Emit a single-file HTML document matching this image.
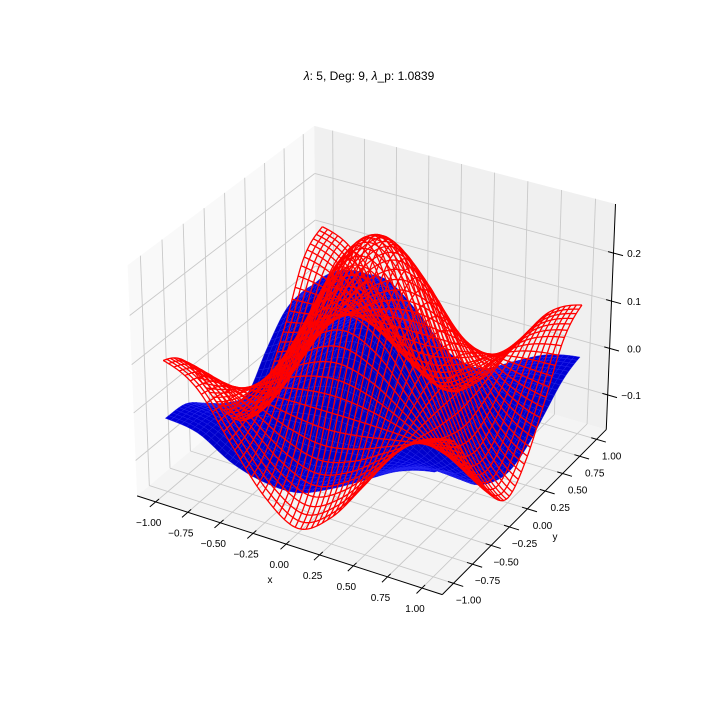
<!DOCTYPE html>
<html><head><meta charset="utf-8"><style>
html,body{margin:0;padding:0;background:#fff;}
svg{display:block;font-family:"Liberation Sans","DejaVu Sans",sans-serif;}
</style></head><body>
<svg id="chart" width="720" height="720" viewBox="0 0 720 720" xmlns="http://www.w3.org/2000/svg">
<rect x="0" y="0" width="720" height="720" fill="#ffffff"/>
<text x="369" y="80" text-anchor="middle" font-size="12" fill="#000"><tspan font-style="italic">λ</tspan>: 5, Deg: 9, <tspan font-style="italic">λ</tspan>_p: 1.0839</text>
<g id="panes"></g>
<g id="grid"></g>
<g id="axes"></g>
<g id="blue"></g>
<g id="red"></g>
</svg>
<script>
const xGrid=[-1,-0.75,-0.5,-0.25,0,0.25,0.5,0.75,1];
const yGrid=[-1,-0.75,-0.5,-0.25,0,0.25,0.5,0.75,1];
const redZ=[
[0.10,0.064,-0.03,-0.12,-0.165,-0.12,-0.03,0.064,0.10],
[0.064,0.042,-0.010,-0.06,-0.084,-0.06,-0.010,0.042,0.064],
[-0.03,-0.010,0.03,0.065,0.08,0.065,0.03,-0.010,-0.03],
[-0.12,-0.06,0.065,0.185,0.235,0.185,0.065,-0.06,-0.12],
[-0.165,-0.084,0.08,0.235,0.295,0.235,0.08,-0.084,-0.165],
[-0.12,-0.06,0.065,0.185,0.235,0.185,0.065,-0.06,-0.12],
[-0.03,-0.010,0.03,0.065,0.08,0.065,0.03,-0.010,-0.03],
[0.08,0.055,-0.010,-0.06,-0.084,-0.06,-0.010,0.042,0.064],
[0.115,0.08,-0.03,-0.12,-0.165,-0.12,-0.03,0.064,0.10]];
const blueZ=[
[-0.02,-0.03,-0.07,-0.09,-0.09,-0.06,-0.02,0.02,0.04],
[-0.025,-0.032,-0.049,-0.066,-0.07,-0.05,-0.03,-0.01,0.0],
[-0.06,-0.049,-0.0225,0.004,0.015,0.004,-0.0225,-0.049,-0.06],
[-0.095,-0.066,0.004,0.074,0.103,0.074,0.004,-0.066,-0.095],
[-0.11,-0.073,0.045,0.103,0.14,0.103,0.015,-0.073,-0.11],
[-0.05,0.0,0.06,0.104,0.103,0.074,0.004,-0.066,-0.095],
[0.0,0.07,0.09,0.09,0.05,0.004,-0.0225,-0.049,-0.06],
[0.01,0.07,0.08,0.05,-0.03,-0.066,-0.049,-0.032,-0.025],
[0.0,0.03,0.04,-0.01,-0.08,-0.095,-0.06,-0.025,-0.01]];
const xTicks=[-1,-0.75,-0.5,-0.25,0,0.25,0.5,0.75,1];
const xTickLabels=['−1.00','−0.75','−0.50','−0.25','0.00','0.25','0.50','0.75','1.00'];
const yTicks=[-1,-0.75,-0.5,-0.25,0,0.25,0.5,0.75,1];
const yTickLabels=['−1.00','−0.75','−0.50','−0.25','0.00','0.25','0.50','0.75','1.00'];
const zTicks=[-0.1,0,0.1,0.2];
const zTickLabels=['−0.1','0.0','0.1','0.2'];

const NS='http://www.w3.org/2000/svg';
const xlim=[-1.1,1.1], ylim=[-1.1,1.1], zlim=[-0.166,0.291];
function pad(l){const d=(l[1]-l[0])/12/4;return [l[0]-d,l[1]+d];}
const xb=pad(xlim), yb=pad(ylim), zb=pad(zlim);
const el=30*Math.PI/180, az=-60*Math.PI/180, dist=10;
const E=[0.5+dist*Math.cos(el)*Math.cos(az),0.5+dist*Math.cos(el)*Math.sin(az),0.5+dist*Math.sin(el)];
function norm(a){const l=Math.hypot(a[0],a[1],a[2]);return [a[0]/l,a[1]/l,a[2]/l];}
function cross(a,b){return [a[1]*b[2]-a[2]*b[1],a[2]*b[0]-a[0]*b[2],a[0]*b[1]-a[1]*b[0]];}
function dot(a,b){return a[0]*b[0]+a[1]*b[1]+a[2]*b[2];}
const nV=norm([E[0]-0.5,E[1]-0.5,E[2]-0.5]);
const uV=norm(cross([0,0,1],nV));
const vV=cross(nV,uV);
let KZ=1;
function raw(x,y,z){
  const Zn=0.5+((z-zlim[0])/(zlim[1]-zlim[0])-0.5)*KZ;
  const p=[(x-xlim[0])/(xlim[1]-xlim[0])-E[0],(y-ylim[0])/(ylim[1]-ylim[0])-E[1],Zn-E[2]];
  const vz=dot(nV,p);
  return [dot(uV,p)/(-vz),dot(vV,p)/(-vz),vz];
}
const fitPts=[[xb[0],yb[0],zb[0],137,495],[xb[1],yb[0],zb[0],443,596],[xb[1],yb[1],zb[0],605.5,429],
 [xb[1],yb[1],zb[1],615.5,203],[xb[0],yb[1],zb[1],315,127.5],[xb[0],yb[0],zb[1],127,264.6]];
function solve3(A,b){
  const M=[[0,0,0],[0,0,0],[0,0,0]],r=[0,0,0];
  for(let i=0;i<A.length;i++)for(let p=0;p<3;p++){r[p]+=A[i][p]*b[i];for(let q=0;q<3;q++)M[p][q]+=A[i][p]*A[i][q];}
  for(let c=0;c<3;c++){let piv=c;for(let k=c+1;k<3;k++)if(Math.abs(M[k][c])>Math.abs(M[piv][c]))piv=k;
    [M[c],M[piv]]=[M[piv],M[c]];[r[c],r[piv]]=[r[piv],r[c]];
    for(let k=0;k<3;k++)if(k!==c){const f=M[k][c]/M[c][c];for(let q=0;q<3;q++)M[k][q]-=f*M[c][q];r[k]-=f*r[c];}}
  return [r[0]/M[0][0],r[1]/M[1][1],r[2]/M[2][2]];
}
let best=null;
for(let kz=0.6;kz<=1.4;kz+=0.01){
  KZ=kz;
  const A=fitPts.map(p=>{const q=raw(p[0],p[1],p[2]);return [q[0],q[1],1];});
  const cx=solve3(A,fitPts.map(p=>p[3])), cy=solve3(A,fitPts.map(p=>p[4]));
  let err=0;A.forEach((a,i)=>{err+=Math.pow(cx[0]*a[0]+cx[1]*a[1]+cx[2]-fitPts[i][3],2)+Math.pow(cy[0]*a[0]+cy[1]*a[1]+cy[2]-fitPts[i][4],2);});
  if(!best||err<best.err)best={err,kz,cx,cy};
}
KZ=best.kz;
function P(x,y,z){const r=raw(x,y,z);return [best.cx[0]*r[0]+best.cx[1]*r[1]+best.cx[2],best.cy[0]*r[0]+best.cy[1]*r[1]+best.cy[2],r[2]];}

function cr(p0,p1,p2,p3,t){return 0.5*((2*p1)+(-p0+p2)*t+(2*p0-5*p1+4*p2-p3)*t*t+(-p0+3*p1-3*p2+p3)*t*t*t);}
function sample(G,x,y){
  const n=xGrid.length-1;
  const gx=(x-xGrid[0])/(xGrid[1]-xGrid[0]), gy=(y-yGrid[0])/(yGrid[1]-yGrid[0]);
  let ix=Math.min(n-1,Math.floor(gx)), iy=Math.min(n-1,Math.floor(gy));
  const tx=gx-ix, ty=gy-iy;
  const c=i=>Math.max(0,Math.min(n,i));
  const rows=[];
  for(let j=-1;j<=2;j++){const row=G[c(iy+j)];rows.push(cr(row[c(ix-1)],row[c(ix)],row[c(ix+1)],row[c(ix+2)],tx));}
  return cr(rows[0],rows[1],rows[2],rows[3],ty);
}
function mk(tag,attrs,parent){const e=document.createElementNS(NS,tag);for(const k in attrs)e.setAttribute(k,attrs[k]);parent.appendChild(e);return e;}
function pts(arr){return arr.map(p=>p[0].toFixed(2)+','+p[1].toFixed(2)).join(' ');}

const gP=document.getElementById('panes'), gG=document.getElementById('grid'), gA=document.getElementById('axes');
let e;
e=mk('polygon',{points:pts([P(xb[0],yb[0],zb[0]),P(xb[1],yb[0],zb[0]),P(xb[1],yb[1],zb[0]),P(xb[0],yb[1],zb[0])]),fill:'#f4f4f4'},gP);


e=mk('polygon',{points:pts([P(xb[0],yb[0],zb[0]),P(xb[0],yb[1],zb[0]),P(xb[0],yb[1],zb[1]),P(xb[0],yb[0],zb[1])]),fill:'#f9f9f9'},gP);


e=mk('polygon',{points:pts([P(xb[0],yb[1],zb[0]),P(xb[1],yb[1],zb[0]),P(xb[1],yb[1],zb[1]),P(xb[0],yb[1],zb[1])]),fill:'#f0f0f0'},gP);



const gc='#c9c9c9';
function gl(a,b,name){const l=mk('polyline',{points:pts([a,b]),stroke:gc,'stroke-width':0.9,fill:'none'},gG);
 
 }
xTicks.forEach(x=>{gl(P(x,yb[0],zb[0]),P(x,yb[1],zb[0]),'x-grid-line');gl(P(x,yb[1],zb[0]),P(x,yb[1],zb[1]),'x-grid-line');});
yTicks.forEach(y=>{gl(P(xb[0],y,zb[0]),P(xb[1],y,zb[0]),'y-grid-line');gl(P(xb[0],y,zb[0]),P(xb[0],y,zb[1]),'y-grid-line');});
zTicks.forEach(z=>{gl(P(xb[0],yb[0],z),P(xb[0],yb[1],z),'z-grid-line');gl(P(xb[0],yb[1],z),P(xb[1],yb[1],z),'z-grid-line');});

function al(a,b,name,w){const l=mk('polyline',{points:pts([a,b]),stroke:'#000','stroke-width':w,fill:'none'},gA);
 
 }
function tx(p,s,anchor,name,size){const t=mk('text',{x:p[0].toFixed(1),y:p[1].toFixed(1),'text-anchor':anchor,'font-size':size||10,fill:'#000'},gA);t.textContent=s;
 
 }
al(P(xb[0],yb[0],zb[0]),P(xb[1],yb[0],zb[0]),'x-axis-line',1);
al(P(xb[1],yb[0],zb[0]),P(xb[1],yb[1],zb[0]),'y-axis-line',1);
al(P(xb[1],yb[1],zb[0]),P(xb[1],yb[1],zb[1]),'z-axis-line',1);
xTicks.forEach((x,i)=>{al(P(x,yb[0]+0.04,zb[0]),P(x,yb[0]-0.07,zb[0]),'x-tick',1);const p=P(x,yb[0],zb[0]);tx([p[0]-7,p[1]+24],xTickLabels[i],'middle','x-tick-label');});
yTicks.forEach((y,i)=>{al(P(xb[1]-0.04,y,zb[0]),P(xb[1]+0.07,y,zb[0]),'y-tick',1);const p=P(xb[1],y,zb[0]);tx([p[0]+15,p[1]+20],yTickLabels[i],'middle','y-tick-label');});
zTicks.forEach((z,i)=>{al(P(xb[1]-0.04,yb[1],z),P(xb[1]+0.07,yb[1],z),'z-tick',1);const p=P(xb[1],yb[1],z);tx([641,p[1]+4],zTickLabels[i],'end','z-tick-label');});
tx([270,583],'x','middle','x-axis-title');
tx([555,540],'y','middle','y-axis-title');

// blue surface
const gB=document.getElementById('blue');
const NQ=49, quads=[];
const light=norm([-1,1,1.5]);
for(let j=0;j<NQ;j++)for(let i=0;i<NQ;i++){
  const x0=-1+2*i/NQ,x1=-1+2*(i+1)/NQ,y0=-1+2*j/NQ,y1=-1+2*(j+1)/NQ;
  const c=[[x0,y0],[x1,y0],[x1,y1],[x0,y1]].map(q=>[q[0],q[1],sample(blueZ,q[0],q[1])]);
  const pr=c.map(q=>P(q[0],q[1],q[2]));
  const d=(pr[0][2]+pr[1][2]+pr[2][2]+pr[3][2])/4;
  const zs=(zlim[1]-zlim[0]);
  const a=[(c[2][0]-c[0][0])/2.2,(c[2][1]-c[0][1])/2.2,(c[2][2]-c[0][2])/zs];
  const b=[(c[3][0]-c[1][0])/2.2,(c[3][1]-c[1][1])/2.2,(c[3][2]-c[1][2])/zs];
  const nrm=norm(cross(a,b));
  const k=0.66+0.22*Math.max(0,Math.min(1,(dot(nrm,light)+1)/2));
  quads.push({pr,d,k});
}
quads.sort((a,b)=>a.d-b.d);
quads.forEach(q=>{const col='rgb(0,0,'+Math.round(255*q.k)+')';
  const ec='rgb(40,40,'+Math.round(255*Math.min(1,q.k+0.08))+')';
  const p=mk('polygon',{points:pts(q.pr),fill:col,stroke:ec,'stroke-width':0.4},gB);
  
  });

// red wireframe
const gR=document.getElementById('red');
const NL=50, NS2=100;
for(let k=0;k<NL;k++){
  const t=-1+2*k/(NL-1);
  const a=[],b=[];
  for(let s=0;s<=NS2;s++){const u=-1+2*s/NS2;
    a.push(P(u,t,sample(redZ,u,t)));b.push(P(t,u,sample(redZ,t,u)));}
  const l1=mk('polyline',{points:pts(a),stroke:'#ff0000','stroke-width':1.3,fill:'none'},gR);
  
  
  const l2=mk('polyline',{points:pts(b),stroke:'#ff0000','stroke-width':1.3,fill:'none'},gR);
  
  
}
</script>
</body></html>
